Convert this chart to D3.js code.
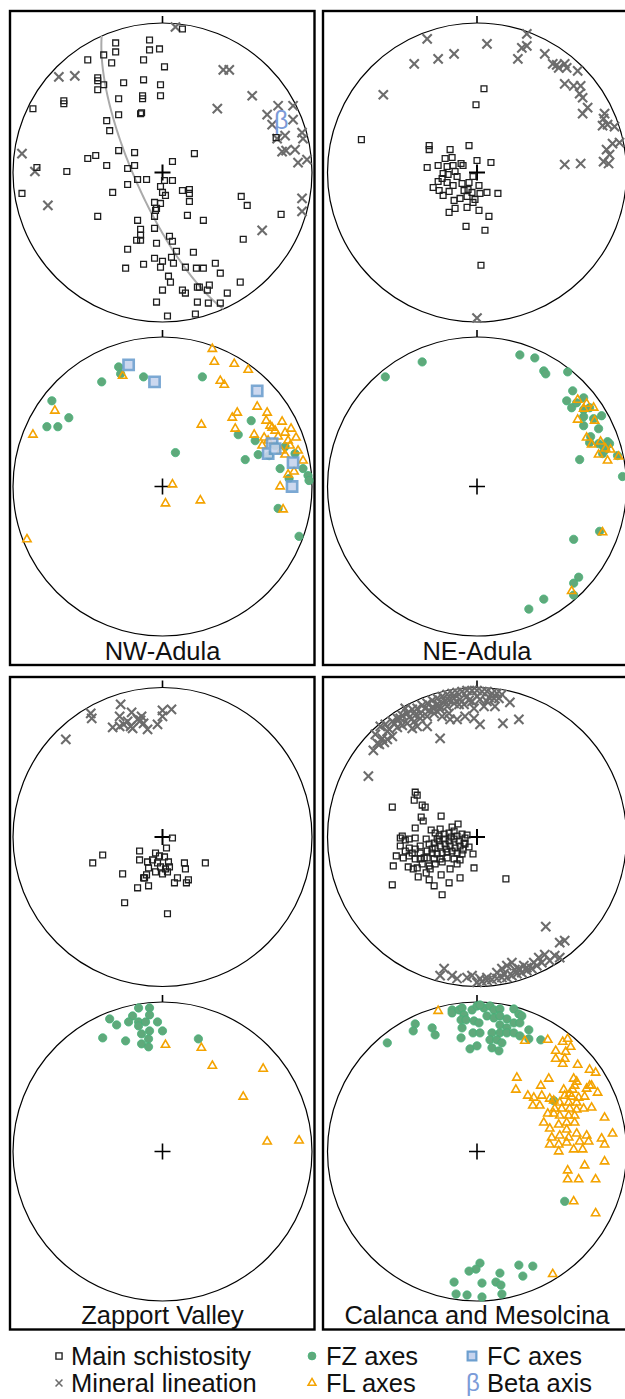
<!DOCTYPE html>
<html>
<head>
<meta charset="utf-8">
<script src="https://cdn.jsdelivr.net/npm/d3@7"></script>
<style>
  body { margin: 0; background: #fff; }
  svg { display: block; font-family: "Liberation Sans", Arial, sans-serif; }
</style>
</head>
<body>
<svg id="chart" width="625" height="1399"></svg>
<script>
// Equal-area projected positions, [east, north], primitive radius = 150 units

// NW-Adula
var nwSchistosity = [
  [20,144],[-47,130],[-13,133],[-47,121],[-13,123],[-3,124],[-59,118],[-75,113],[-51,110],[-19,113],
  [2,106],[-65,95],[-65,92],[-59,88],[-39,90],[-19,93],[-2,88],[-65,83],[-20,77],[-20,74],
  [-2,77],[-44,74],[-99,72],[-99,69],[-130,64],[-44,58],[-22,59],[-21,60],[-56,52],[-53,42],
  [-44,22],[-28,20],[-75,14],[-67,17],[32,19],[10,11],[-56,7],[-35,4],[-28,7],[-126,5],
  [-96,1],[-25,-7],[-16,-7],[2,-8],[10,-8],[-35,-12],[-2,-14],[-141,-21],[-50,-20],[0,-20],
  [3,-23],[20,-18],[27,-17],[27,-21],[-2,-31],[-8,-30],[27,-29],[79,-24],[85,-33],[-6,-36],
  [-7,-38],[-65,-44],[-8,-44],[25,-43],[41,-48],[119,-42],[-25,-48],[-22,-57],[-22,-63],[-8,-56],
  [-26,-68],[-22,-68],[7,-64],[10,-69],[81,-67],[-6,-71],[-35,-77],[14,-79],[31,-80],[-8,-86],
  [0,-89],[9,-85],[11,-91],[-2,-95],[-19,-92],[-37,-96],[23,-95],[34,-96],[41,-96],[53,-91],
  [58,-101],[6,-104],[8,-110],[0,-118],[20,-118],[23,-121],[35,-115],[37,-115],[47,-113],[45,-118],
  [65,-121],[78,-110],[-6,-130],[35,-130],[46,-131],[58,-131],[5,-144],[33,-142],[114,35]
];
var nwLineation = [
  [13,146],[-104,96],[-88,97],[61,103],[67,103],[90,77],[55,64],[105,58],[116,67],[131,67],
  [131,53],[110,48],[123,37],[140,40],[141,34],[120,21],[124,22],[133,23],[136,10],[145,13],
  [-141,19],[-128,1],[-115,-33],[140,-26],[140,-39],[100,-58],[115,34]
];
var nwFZ = [
  [-44,120],[-42,113],[-61,105],[-19,110],[40,110],[-111,86],[-94,69],[-116,60],[-105,60],[89,66],
  [76,52],[93,46],[13,34],[83,27],[96,32],[107,31],[133,33],[118,18],[127,8],[141,18],
  [146,11],[147,6],[116,-22],[137,-50],[113,41],[123,40]
];
var nwFL = [
  [50,138],[52,125],[72,123],[86,117],[58,106],[62,102],[-40,111],[-108,76],[-130,52],[75,74],
  [70,69],[95,80],[105,74],[104,66],[39,62],[73,58],[92,52],[102,49],[108,61],[110,59],
  [120,65],[129,58],[123,54],[134,49],[126,46],[128,41],[119,36],[123,32],[136,36],[141,26],
  [132,15],[126,12],[118,0],[121,-23],[10,2],[3,-17],[38,-14],[-136,-53],[113,56],[116,50],
  [106,46],[100,41]
];
var nwFC = [[-34,122],[-8,105],[95,96],[110,43],[106,33],[113,38],[131,24],[130,0]];
var betaAxis = { trend: 66, plunge: 15 };

// NE-Adula
var neSchistosity = [
  [7,84],[-1,68],[-116,33],[-48,27],[-48,23],[-27,23],[-8,27],[-32,14],[-25,15],[0,12],
  [14,10],[-50,5],[-39,7],[-30,6],[-24,7],[-16,9],[-14,7],[-34,-1],[-29,-2],[-22,1],
  [-20,-4],[-4,-4],[-39,-9],[-30,-10],[-24,-13],[-15,-11],[-8,-10],[2,-13],[-44,-15],[-38,-18],
  [-28,-19],[-13,-18],[-5,-20],[3,-21],[10,-20],[21,-21],[-34,-23],[-17,-26],[-10,-24],[-4,-30],
  [-23,-28],[-2,-27],[-10,-35],[-22,-36],[-28,-40],[2,-38],[12,-44],[-11,-54],[8,-58],[4,-93],
  [-35,-6],[-9,-17]
];
var neLineation = [
  [-50,134],[10,129],[-23,119],[-39,114],[-63,109],[-94,78],[50,139],[45,125],[50,127],[41,114],
  [68,119],[76,109],[80,108],[82,105],[88,109],[90,105],[101,102],[88,89],[97,87],[104,87],
  [103,79],[106,75],[111,65],[106,59],[128,59],[127,54],[126,47],[131,48],[138,46],[136,29],
  [143,30],[130,23],[133,18],[127,11],[132,9],[88,8],[104,9],[0,-146]
];
var neFZ = [
  [-92,110],[-55,125],[43,132],[58,129],[67,116],[69,113],[91,115],[96,96],[90,86],[95,79],
  [100,84],[107,89],[107,77],[113,79],[125,71],[107,70],[117,68],[107,61],[122,58],[114,50],
  [113,44],[122,43],[131,45],[133,43],[129,37],[126,33],[141,31],[103,27],[146,10],[123,-45],
  [97,-53],[102,-91],[97,-97],[97,-109],[67,-113],[52,-123],[127,40]
];
var neFL = [
  [101,87],[107,78],[110,83],[117,79],[101,67],[118,66],[110,49],[115,42],[124,45],[122,32],
  [129,38],[134,37],[131,26],[142,30],[126,-46],[95,-105]
];

// Zapport Valley
var zapSchistosity = [
  [10,-1],[4,-11],[-23,-14],[-7,-16],[-3,-19],[2,-20],[-60,-18],[-70,-26],[-23,-23],[-15,-25],
  [-10,-23],[-5,-26],[6,-25],[22,-26],[43,-26],[23,-32],[-14,-31],[-2,-30],[7,-30],[-40,-37],
  [-16,-38],[-7,-35],[0,-37],[5,-35],[-18,-41],[-19,-41],[15,-41],[12,-46],[26,-43],[24,-46],
  [-25,-51],[-14,-49],[-38,-66],[5,-77],[3,-32]
];
var zapLineation = [
  [-97,98],[-72,124],[-71,119],[-42,133],[-43,121],[-50,110],[-43,111],[-35,116],[-31,125],[-32,111],
  [-30,109],[-25,118],[-21,121],[-19,114],[-22,117],[-15,108],[-5,113],[0,121],[0,127],[9,128],
  [-39,113]
];
var zapFZ = [
  [-24,144],[-13,144],[-53,133],[-46,127],[-30,136],[-34,130],[-24,130],[-17,130],[-13,137],[-24,126],
  [-5,130],[0,121],[-13,121],[-21,118],[-60,114],[-37,111],[-21,108],[-14,113],[-14,105],[36,113]
];
var zapFL = [[3,107],[39,104],[50,86],[101,83],[81,55],[105,10],[137,11]];

// Calanca and Mesolcina
var calSchistosity = [
  [-62,45],[-60,42],[-63,37],[-55,32],[-52,30],[-85,30],[-56,20],[-54,16],[-36,21],[-62,9],
  [-46,7],[-19,13],[-25,10],[-37,8],[-75,1],[-72,-3],[-68,-2],[-62,-1],[-77,-1],[-51,-2],
  [-42,4],[-38,1],[-33,3],[-28,4],[-23,6],[-20,1],[-15,3],[-12,-1],[-13,-6],[-18,-4],
  [-23,-2],[-28,-4],[-33,-2],[-38,-4],[-43,-6],[-48,-7],[-42,-11],[-37,-9],[-32,-7],[-27,-9],
  [-22,-11],[-17,-9],[-12,-7],[-68,-11],[-62,-12],[-57,-16],[-50,-14],[-45,-16],[-40,-17],[-35,-16],
  [-30,-15],[-25,-14],[-20,-16],[-15,-17],[-81,-19],[-74,-21],[-68,-19],[-62,-22],[-57,-22],[-50,-21],
  [-43,-22],[-37,-22],[-30,-21],[-23,-22],[-17,-23],[-4,-17],[-84,-29],[-69,-30],[-64,-32],[-60,-31],
  [-48,-29],[-47,-32],[-42,-27],[-27,-32],[-20,-27],[-3,-31],[-59,-40],[-51,-36],[-48,-43],[-36,-38],
  [-28,-46],[-17,-41],[-43,-49],[-35,-58],[-85,-48],[29,-42],[-53,-21],[-72,-14],[-65,-16],[-57,-9],
  [-77,-9],[-10,2],[-8,-10],[-26,0],[-40,-2],[-31,-12],[-45,-12],[-14,-13],[-35,-25],[-55,-27]
];
var calLineation = [
  [-109,61],[-104,87],[-98,93],[-93,95],[-102,103],[-95,99],[-90,98],[-85,101],[-97,111],[-92,113],
  [-85,116],[-80,119],[-75,122],[-70,124],[-65,128],[-60,129],[-55,132],[-50,134],[-45,137],[-40,139],
  [-35,141],[-30,143],[-25,144],[-20,145],[-15,146],[-10,147],[-5,147],[0,147],[5,146],[10,146],
  [15,144],[20,144],[25,143],[33,135],[18,131],[7,131],[3,138],[-5,136],[-10,141],[-17,138],
  [-23,134],[-30,131],[-37,128],[-43,124],[-50,121],[-57,119],[-63,116],[-70,114],[-77,119],[-40,133],
  [-32,136],[-23,139],[-13,133],[-3,129],[10,136],[17,139],[-65,109],[-60,111],[-50,111],[-37,99],
  [-27,118],[-20,118],[-12,121],[-3,119],[3,113],[26,114],[42,118],[-57,124],[-43,129],[-35,121],
  [-72,129],[-52,129],[-28,124],[-83,114],[-90,106],[-75,112],[-68,120],[-48,127],[-38,132],[-28,137],
  [-18,133],[-8,137],[0,141],[12,140],[22,139],[-88,108],[-100,94],[-80,110],[-62,122],[-45,130],
  [69,-90],[83,-106],[88,-104],[78,-119],[83,-121],[73,-124],[65,-126],[60,-129],[55,-132],[50,-134],
  [45,-136],[40,-137],[35,-139],[30,-141],[25,-141],[20,-142],[15,-143],[10,-144],[5,-145],[0,-146],
  [-5,-139],[-10,-141],[-20,-142],[-25,-139],[-33,-132],[-37,-139],[35,-126],[30,-129],[25,-132],[20,-136],
  [57,-126],[50,-131],[42,-132],[10,-141],[3,-142],[27,-137],[47,-129],[62,-121],[68,-118],[38,-133]
];
var calFZ = [
  [-90,109],[-62,128],[-64,121],[-45,124],[-42,117],[-25,142],[-25,139],[-18,142],[-15,144],[-13,137],
  [-5,142],[0,146],[7,144],[13,146],[17,142],[23,143],[37,143],[42,138],[45,136],[-16,132],
  [-11,132],[-3,131],[2,129],[-15,124],[-4,119],[3,119],[10,136],[17,134],[23,136],[30,133],
  [37,129],[43,129],[23,127],[30,124],[15,119],[23,119],[30,119],[37,119],[43,116],[52,113],
  [52,122],[13,112],[20,112],[25,109],[-16,114],[-7,103],[0,106],[15,104],[22,101],[64,112],
  [77,51],[88,-50],[3,-112],[-1,-118],[-8,-120],[42,-114],[56,-115],[23,-122],[46,-125],[-23,-131],
  [5,-132],[19,-131],[24,-134],[-21,-143],[-10,-144],[5,-146],[25,-143],[3,147]
];
var calFL = [
  [-39,141],[48,111],[71,112],[86,110],[91,113],[94,105],[79,101],[89,100],[79,93],[88,93],
  [86,88],[101,87],[113,82],[119,79],[40,74],[72,73],[64,66],[39,62],[51,56],[57,54],
  [65,56],[73,53],[63,46],[56,46],[100,70],[98,66],[96,62],[93,58],[88,56],[95,55],
  [102,54],[108,55],[113,66],[110,63],[115,66],[121,59],[83,49],[92,49],[100,49],[78,43],
  [85,43],[93,43],[100,42],[107,43],[115,44],[71,38],[77,38],[83,36],[92,36],[98,36],
  [67,29],[82,27],[90,29],[98,29],[128,34],[73,23],[90,22],[100,18],[110,16],[83,16],
  [75,14],[92,14],[73,7],[82,7],[90,9],[103,10],[112,10],[125,13],[128,7],[136,18],
  [82,0],[97,2],[106,2],[128,-10],[108,-14],[91,-19],[91,-28],[102,-28],[119,-28],[97,-50],
  [119,-62],[76,-123],[77,51],[87,62],[97,73]
];

var panelTitles = ['NW-Adula', 'NE-Adula', 'Zapport Valley', 'Calanca and Mesolcina'];
var legendLabels = ['Main schistosity', 'Mineral lineation', 'FZ axes', 'FL axes', 'FC axes', 'Beta axis'];

// ---------------------------------------------------------------

var svg = d3.select('#chart');
var NET_R = 149.5;
var UNIT_R = 150;
var BETA_COLOR = '#7b9bd8';

var styles = {
  schist: { path: d3.symbol().type(d3.symbolSquare).size(34)(), fill: 'none', stroke: '#1e1e1e', width: 1.3 },
  lineation: { path: 'M-4.6,-4.6L4.6,4.6M-4.6,4.6L4.6,-4.6', fill: 'none', stroke: '#6c6c6c', width: 2.1 },
  fz: { path: d3.symbol().type(d3.symbolCircle).size(54)(), fill: '#5fa97b', stroke: '#44b278', width: 0.8 },
  fl: { path: d3.symbol().type(d3.symbolTriangle).size(30)(), fill: 'none', stroke: '#f4a300', width: 1.6 },
  fc: { path: d3.symbol().type(d3.symbolSquare).size(105)(), fill: '#c7d4ee', stroke: '#6d9fcf', width: 2.6, opacity: 0.9 }
};

function toRad(deg) { return deg * Math.PI / 180; }

// lower hemisphere equal-area projection, result in net units
function projectAxis(trend, plunge) {
  var r = UNIT_R * Math.SQRT2 * Math.sin(toRad(90 - plunge) / 2);
  return [r * Math.sin(toRad(trend)), r * Math.cos(toRad(trend))];
}

// trace of the plane whose pole is given
function greatCircle(pole) {
  var tp = toRad(pole.trend), pp = toRad(pole.plunge);
  var s = [-Math.cos(tp), Math.sin(tp), 0];
  var d = [-Math.sin(tp) * Math.sin(pp), -Math.cos(tp) * Math.sin(pp), Math.cos(pp)];
  return d3.range(0, 181, 2).map(function (deg) {
    var t = toRad(deg);
    var v = [0, 1, 2].map(function (i) { return Math.cos(t) * s[i] + Math.sin(t) * d[i]; });
    var plunge = Math.asin(Math.min(1, v[2])) * 180 / Math.PI;
    var trend = Math.atan2(v[0], v[1]) * 180 / Math.PI;
    return projectAxis(trend, plunge);
  });
}

function plotSymbols(g, data, style, x, y) {
  g.append('g')
    .attr('opacity', style.opacity || 1)
    .selectAll('path')
    .data(data)
    .enter().append('path')
    .attr('d', style.path)
    .attr('transform', function (p) { return 'translate(' + x(p[0]) + ',' + y(p[1]) + ')'; })
    .attr('fill', style.fill)
    .attr('stroke', style.stroke)
    .attr('stroke-width', style.width);
}

function drawNet(net) {
  var g = svg.append('g');
  var x = d3.scaleLinear().domain([-UNIT_R, UNIT_R]).range([net.cx - NET_R, net.cx + NET_R]);
  var y = d3.scaleLinear().domain([-UNIT_R, UNIT_R]).range([net.cy + NET_R, net.cy - NET_R]);

  g.append('circle')
    .attr('cx', net.cx).attr('cy', net.cy).attr('r', NET_R)
    .attr('fill', 'none').attr('stroke', '#000').attr('stroke-width', 1.2);

  // north tick
  g.append('line')
    .attr('x1', net.cx).attr('x2', net.cx)
    .attr('y1', net.cy - NET_R - 7).attr('y2', net.cy - NET_R)
    .attr('stroke', '#000').attr('stroke-width', 1.6);

  // centre cross
  g.append('path')
    .attr('d', 'M' + (net.cx - 8) + ',' + net.cy + 'h16M' + net.cx + ',' + (net.cy - 8) + 'v16')
    .attr('stroke', '#000').attr('stroke-width', net.crossWidth);

  if (net.pole) {
    g.append('path')
      .datum(greatCircle(net.pole))
      .attr('d', d3.line().x(function (p) { return x(p[0]); }).y(function (p) { return y(p[1]); }))
      .attr('fill', 'none').attr('stroke', '#aaaaaa').attr('stroke-width', 2);
  }

  net.layers.forEach(function (layer) {
    if (layer.data.length) plotSymbols(g, layer.data, styles[layer.kind], x, y);
  });

  if (net.pole) {
    var b = projectAxis(net.pole.trend, net.pole.plunge);
    g.append('text')
      .attr('x', x(b[0]) + 1).attr('y', y(b[1]) + 9)
      .attr('text-anchor', 'middle')
      .attr('font-size', 25)
      .attr('fill', BETA_COLOR)
      .text('\u03b2');
  }
}

var colX = [162.5, 477];
var rowY = [172.5, 486.5, 837, 1151.5];

var panels = [
  { title: panelTitles[0], col: 0, row: 0,
    nets: [
      { layers: [{ kind: 'lineation', data: nwLineation }, { kind: 'schist', data: nwSchistosity }], pole: betaAxis },
      { layers: [{ kind: 'fz', data: nwFZ }, { kind: 'fl', data: nwFL }, { kind: 'fc', data: nwFC }] }
    ] },
  { title: panelTitles[1], col: 1, row: 0,
    nets: [
      { layers: [{ kind: 'lineation', data: neLineation }, { kind: 'schist', data: neSchistosity }] },
      { layers: [{ kind: 'fz', data: neFZ }, { kind: 'fl', data: neFL }] }
    ] },
  { title: panelTitles[2], col: 0, row: 2,
    nets: [
      { layers: [{ kind: 'lineation', data: zapLineation }, { kind: 'schist', data: zapSchistosity }] },
      { layers: [{ kind: 'fz', data: zapFZ }, { kind: 'fl', data: zapFL }] }
    ] },
  { title: panelTitles[3], col: 1, row: 2,
    nets: [
      { layers: [{ kind: 'lineation', data: calLineation }, { kind: 'schist', data: calSchistosity }] },
      { layers: [{ kind: 'fz', data: calFZ }, { kind: 'fl', data: calFL }] }
    ] }
];

var frameX = [10, 323];
var frameTop = [11, 677];
var frameBottom = [665, 1329.5];

panels.forEach(function (panel) {
  var top = frameTop[panel.row / 2];
  var bottom = frameBottom[panel.row / 2];
  var left = frameX[panel.col];
  var right = panel.col === 0 ? 314.5 : 660;

  svg.append('rect')
    .attr('x', left).attr('y', top)
    .attr('width', right - left).attr('height', bottom - top)
    .attr('fill', 'none').attr('stroke', '#000').attr('stroke-width', 2.4);

  panel.nets.forEach(function (net, i) {
    net.cx = colX[panel.col];
    net.cy = rowY[panel.row + i];
    net.crossWidth = i === 0 ? 2 : 1.6;
    drawNet(net);
  });

  svg.append('text')
    .attr('x', colX[panel.col]).attr('y', bottom - 5.5)
    .attr('text-anchor', 'middle')
    .attr('font-size', 25.5)
    .attr('fill', '#111')
    .text(panel.title);
});

// legend
var legendCols = [{ mark: 59, text: 71 }, { mark: 312, text: 326 }, { mark: 472, text: 487 }];
var legendRows = [1365, 1392];
var legendKinds = ['schist', 'lineation', 'fz', 'fl', 'fc', 'beta'];
var legendScale = { schist: 1.05, lineation: 0.75, fz: 0.95, fl: 0.95, fc: 0.85 };

legendLabels.forEach(function (label, i) {
  var col = legendCols[Math.floor(i / 2)];
  var base = legendRows[i % 2];
  var kind = legendKinds[i];
  var item = svg.append('g');

  if (kind === 'beta') {
    item.append('text')
      .attr('x', col.mark + 1).attr('y', base - 1)
      .attr('text-anchor', 'middle')
      .attr('font-size', 24)
      .attr('fill', BETA_COLOR)
      .text('\u03b2');
  } else {
    var st = styles[kind];
    item.append('path')
      .attr('d', st.path)
      .attr('transform', 'translate(' + col.mark + ',' + (base - 9) + ') scale(' + legendScale[kind] + ')')
      .attr('fill', st.fill)
      .attr('stroke', st.stroke)
      .attr('stroke-width', st.width);
  }

  item.append('text')
    .attr('x', col.text).attr('y', base)
    .attr('font-size', 25.5)
    .attr('fill', '#111')
    .text(label);
});
</script>
</body>
</html>
